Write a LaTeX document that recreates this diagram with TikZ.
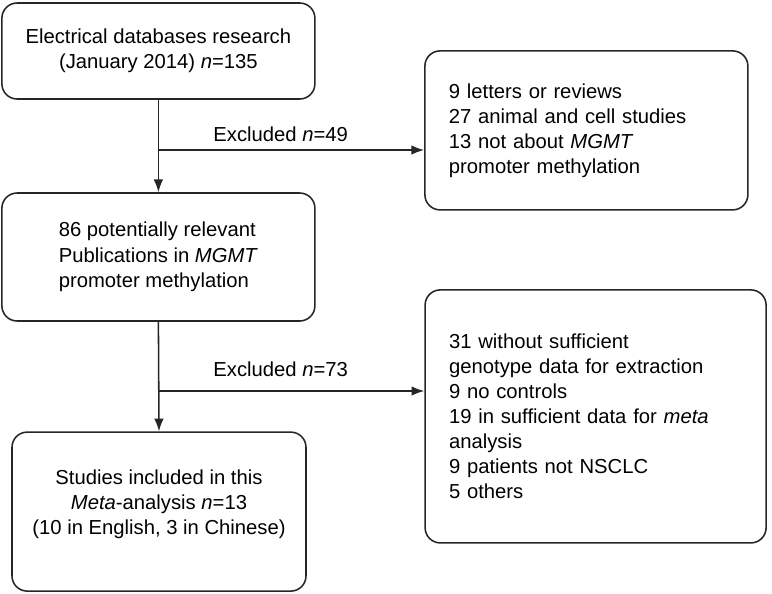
\documentclass[tikz,border=0pt]{standalone}
\usepackage{fontspec}
\setmainfont{Liberation Sans}
\usetikzlibrary{arrows.meta}

\begin{document}
\begin{tikzpicture}[
    box/.style={draw=black!85, line width=1.1pt, rounded corners=0.38cm, inner sep=0pt,
                font=\fontsize{14.4}{17.8}\selectfont},
    mainbox/.style={box, minimum width=7.825cm, align=center},
    sidebox/.style={box, inner xsep=0.6cm, align=left},
    flow/.style={-{Latex[length=0.32cm, width=0.24cm]}, line width=1.1pt, draw=black!85},
    lab/.style={font=\fontsize{14.4}{17.8}\selectfont}
]
\useasboundingbox (0,0) rectangle (19.3,-14.825);
% ---------------- left column ----------------
\node[mainbox, minimum height=2.4cm] (search) at (3.96,-1.275)
    {Electrical databases research\\(January 2014) \textit{n}=135};
\node[mainbox, minimum height=3.2cm] (relevant) at (3.96,-6.425)
    {\begin{tabular}{@{}l@{}}86 potentially relevant\\Publications in \textit{MGMT}\\promoter methylation\end{tabular}};
\node[mainbox, minimum width=7.35cm, minimum height=3.975cm] (included) at (3.975,-12.79)
    {Studies included in this\\\textit{Meta}-analysis \textit{n}=13\\(10 in English, 3 in Chinese)\\[-4.3pt]};
% ---------------- right column ----------------
\node[sidebox, text width=6.875cm, minimum height=3.975cm] (excl1) at (14.66,-3.26)
    {9 letters or reviews\\27 animal and cell studies\\13 not about \textit{MGMT}\\promoter methylation};
\node[sidebox, text width=7.325cm, minimum height=6.325cm] (excl2) at (14.89,-10.41)
    {31 without sufficient\\genotype data for extraction\\9 no controls\\19 in sufficient data for \textit{meta}\\analysis\\9 patients not NSCLC\\5 others};
% ---------------- connectors ----------------
\coordinate (split1) at (search.south |- 0,-3.75);
\coordinate (split2) at (relevant.south |- 0,-9.775);
\draw[flow] (search.south) -- (relevant.north);
\draw[flow] (split1) -- node[lab, above=2pt, pos=0.46] {Excluded \textit{n}=49} (split1 -| excl1.west);
\draw[flow] (relevant.south) -- (included.north);
\draw[flow] (split2) -- node[lab, above=6pt, pos=0.46] {Excluded \textit{n}=73} (split2 -| excl2.west);
\end{tikzpicture}
\end{document}
